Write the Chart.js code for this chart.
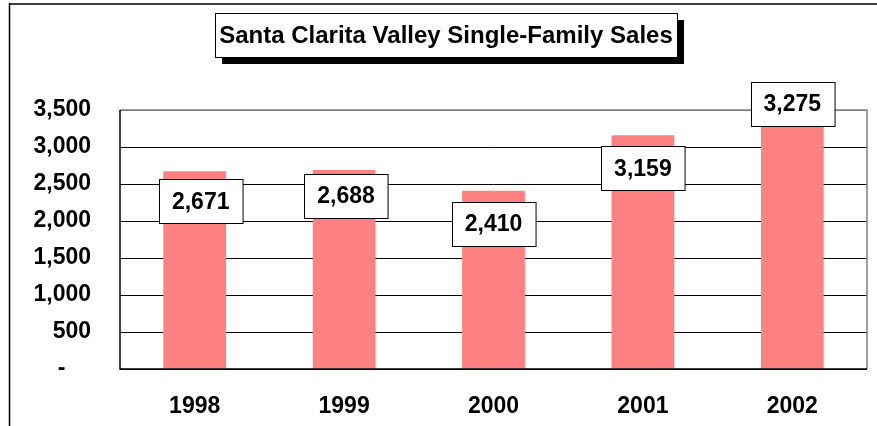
<!DOCTYPE html>
<html>
<head>
<meta charset="utf-8">
<title>Santa Clarita Valley Single-Family Sales</title>
<script src="https://cdn.jsdelivr.net/npm/chart.js@4/dist/chart.umd.min.js"></script>
<style>
    html, body { margin: 0; padding: 0; background: #fff; }
    #wrap { position: relative; width: 877px; height: 426px; }
</style>
</head>
<body>
<div id="wrap"><canvas id="salesChart" width="877" height="426"></canvas></div>
<script>
// ── Data ─────────────────────────────────────────────────────
const titleText   = 'Santa Clarita Valley Single-Family Sales';
const years       = ['1998', '1999', '2000', '2001', '2002'];
const sales       = [2671, 2688, 2410, 3159, 3275];
const yTickValues = [0, 500, 1000, 1500, 2000, 2500, 3000, 3500];
const yTickLabels = ['-    ', '500', '1,000', '1,500', '2,000', '2,500', '3,000', '3,500'];

// ── Style bits ───────────────────────────────────────────────
const FONT      = "'Liberation Sans', Arial, sans-serif";
const BAR_COLOR = '#FF8080';
// label box nudges relative to the top of each bar (px)
const labelDx = [6, 2, 0, 0, 0];
const labelDy = [30, 26, 33, 33, -23];

// ── Outer frame + title box with drop shadow ─────────────────
const framePlugin = {
    id: 'frame',
    beforeDraw(chart) {
        const ctx = chart.ctx;
        ctx.save();
        ctx.fillStyle = '#fff';
        ctx.fillRect(0, 0, chart.width, chart.height);

        ctx.strokeStyle = '#404040';
        ctx.lineWidth = 2;
        ctx.beginPath();
        ctx.moveTo(9, 4);
        ctx.lineTo(chart.width, 4);
        ctx.stroke();

        ctx.strokeStyle = '#000';
        ctx.lineWidth = 1.5;
        ctx.beginPath();
        ctx.moveTo(9.5, 3);
        ctx.lineTo(9.5, chart.height);
        ctx.stroke();

        // title box
        const bx = 215, by = 13, bw = 462, bh = 44;
        ctx.fillStyle = '#000';
        ctx.fillRect(bx + 7, by + 7, bw, bh);
        ctx.fillStyle = '#fff';
        ctx.fillRect(bx, by, bw, bh);
        ctx.strokeStyle = '#000';
        ctx.lineWidth = 1;
        ctx.strokeRect(bx + 0.5, by + 0.5, bw, bh);

        ctx.fillStyle = '#000';
        ctx.font = 'bold 24px ' + FONT;
        ctx.textAlign = 'center';
        ctx.textBaseline = 'middle';
        ctx.fillText(titleText, bx + bw / 2, by + bh / 2 + 1);
        ctx.restore();
    },
    afterDatasetsDraw(chart) {
        const { ctx, chartArea: a } = chart;
        ctx.save();
        // plot area border: grey top/right, black left/bottom
        ctx.strokeStyle = '#808080';
        ctx.lineWidth = 1.5;
        ctx.beginPath();
        ctx.moveTo(a.left, a.top);
        ctx.lineTo(a.right, a.top);
        ctx.lineTo(a.right, a.bottom);
        ctx.stroke();

        ctx.strokeStyle = '#000';
        ctx.beginPath();
        ctx.moveTo(a.left, a.top);
        ctx.lineTo(a.left, a.bottom);
        ctx.lineTo(a.right, a.bottom);
        ctx.stroke();
        ctx.restore();
    }
};

// ── Value labels in white boxes ──────────────────────────────
const valueBoxPlugin = {
    id: 'valueBoxes',
    afterDatasetsDraw(chart) {
        const ctx = chart.ctx;
        const meta = chart.getDatasetMeta(0);
        ctx.save();
        ctx.font = 'bold 23px ' + FONT;
        ctx.textAlign = 'center';
        ctx.textBaseline = 'middle';
        meta.data.forEach(function (bar, i) {
            const text = sales[i].toLocaleString('en-US');
            const w = ctx.measureText(text).width + 26;
            const h = 44;
            const cx = bar.x + labelDx[i];
            const cy = bar.y + labelDy[i];
            const x = Math.round(cx - w / 2) + 0.5;
            const y = Math.round(cy - h / 2) + 0.5;
            ctx.fillStyle = '#fff';
            ctx.fillRect(x, y, w, h);
            ctx.strokeStyle = '#000';
            ctx.lineWidth = 1;
            ctx.strokeRect(x, y, w, h);
            ctx.fillStyle = '#000';
            ctx.fillText(text, cx, cy + 1);
        });
        ctx.restore();
    }
};

// ── Chart ────────────────────────────────────────────────────
const ctx = document.getElementById('salesChart').getContext('2d');
new Chart(ctx, {
    type: 'bar',
    data: {
        labels: years,
        datasets: [{
            data: sales,
            backgroundColor: BAR_COLOR,
            borderWidth: 0,
            categoryPercentage: 1,
            barPercentage: 0.42,
        }]
    },
    options: {
        responsive: false,
        animation: false,
        layout: { padding: { top: 110, right: 10, left: 0, bottom: 0 } },
        plugins: {
            legend: { display: false },
            tooltip: { enabled: false },
            title: { display: false }
        },
        scales: {
            x: {
                grid: { display: false },
                border: { display: false },
                ticks: {
                    color: '#000',
                    padding: 16,
                    font: { family: FONT, size: 23, weight: 'bold' }
                },
                afterFit(scale) { scale.height = 57; }
            },
            y: {
                min: 0,
                max: 3500,
                afterBuildTicks(scale) {
                    scale.ticks = yTickValues.map(v => ({ value: v }));
                },
                grid: {
                    color: ctx => ctx.tick && ctx.tick.value === 3500 ? '#808080' : '#000',
                    lineWidth: 1,
                    drawTicks: false
                },
                border: { display: false },
                ticks: {
                    color: '#000',
                    padding: 29,
                    font: { family: FONT, size: 23, weight: 'bold' },
                    callback: (v) => yTickLabels[yTickValues.indexOf(v)]
                },
                afterFit(scale) { scale.width = 120; }
            }
        }
    },
    plugins: [framePlugin, valueBoxPlugin]
});
</script>
</body>
</html>
